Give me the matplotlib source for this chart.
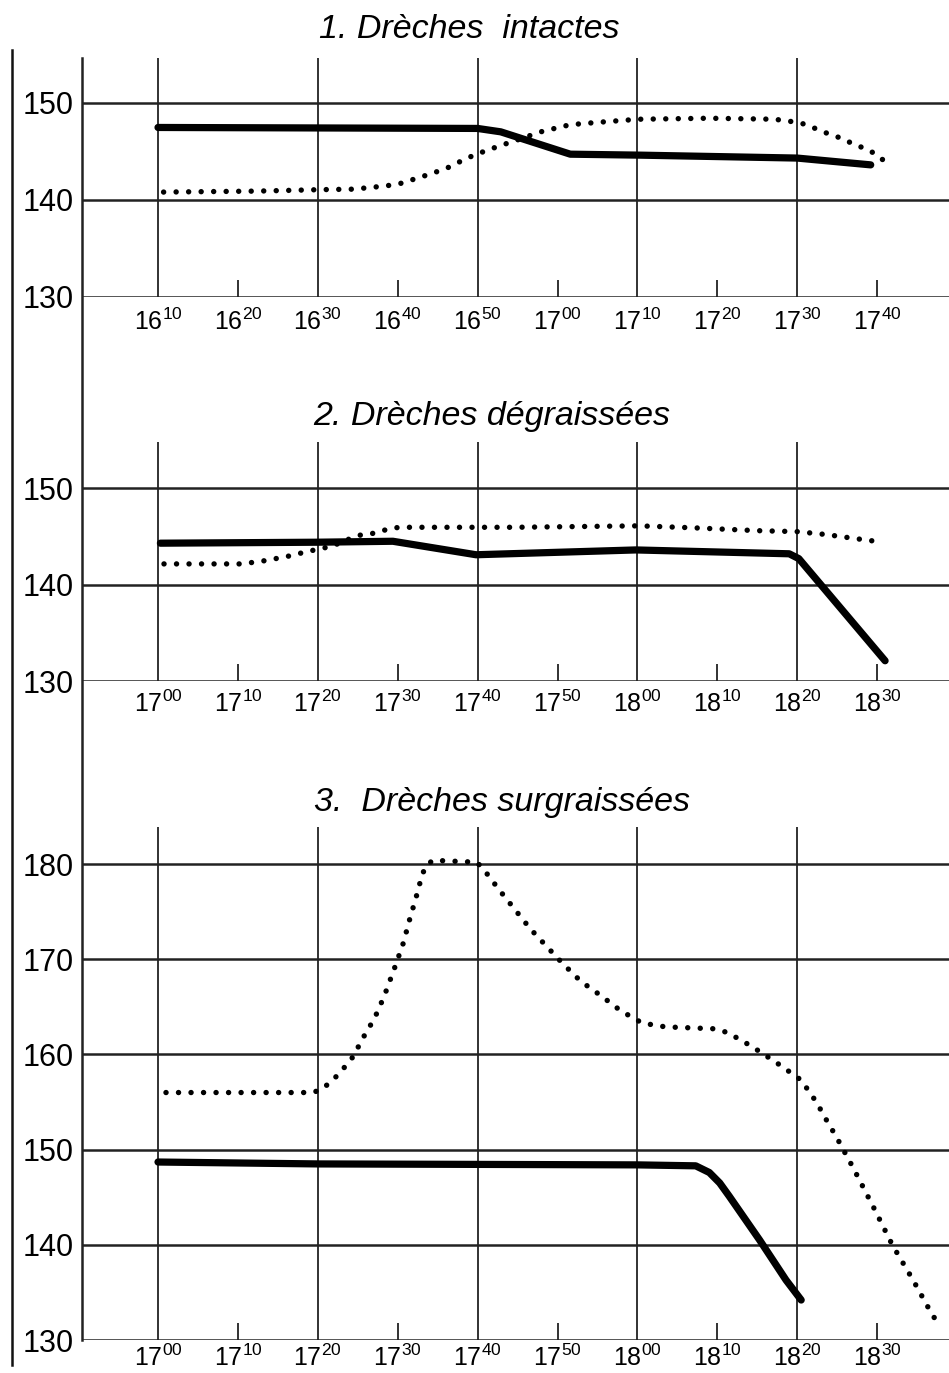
import matplotlib
matplotlib.use("Agg")
import matplotlib.pyplot as plt
from matplotlib.lines import Line2D

W, H = 949, 1373

plt.rcParams["font.family"] = ["Liberation Sans", "DejaVu Sans"]
plt.rcParams["mathtext.fontset"] = "custom"
plt.rcParams["mathtext.rm"] = "Liberation Sans"

# --- data: minutes after 16:00 (panel 1) or 17:00 (panels 2 and 3) ---
titles = ["1. Drèches  intactes", "2. Drèches dégraissées", "3.  Drèches surgraissées"]

p1_solid_t = [10, 50, 52.9, 61.6, 70.4, 90, 99.2]
p1_solid_v = [147.45, 147.35, 147.0, 144.7, 144.6, 144.3, 143.6]
p1_dot_t = [10.7, 22.4, 30.4, 34.5, 38.1, 40, 43.1, 46, 48.7, 50.2, 52.9, 54.4, 57.9, 59.4, 60.8,
            62.5, 65.4, 68.5, 70.4, 79, 87.1, 89, 90.9, 92.7, 94.2, 95.7, 97.1, 98.8, 100.0, 101.2]
p1_dot_v = [140.8, 140.9, 141.05, 141.1, 141.4, 141.6, 142.4, 143.2, 144.3, 144.8, 145.6, 146.0,
            147.0, 147.3, 147.6, 147.8, 148.0, 148.2, 148.3, 148.4, 148.3, 148.1, 147.8, 147.2,
            146.7, 146.3, 145.7, 145.2, 144.6, 143.8]

p2_solid_t = [0.3, 19.8, 29.4, 39.8, 59.8, 79.0, 80.2, 91.0]
p2_solid_v = [144.3, 144.4, 144.5, 143.1, 143.6, 143.2, 142.7, 132.1]
p2_dot_t = [0.75, 10.4, 11.8, 13.5, 16.6, 18.5, 20.2, 21.8, 25.0, 26.8, 28.1, 29.5, 31.2, 44.6,
            60.2, 66.9, 75.0, 80.0, 83.6, 87.1, 90.7]
p2_dot_v = [142.15, 142.15, 142.3, 142.5, 143.0, 143.4, 143.7, 144.0, 145.1, 145.3, 145.6, 145.9,
            145.95, 145.95, 146.1, 145.9, 145.6, 145.5, 145.2, 144.8, 144.4]

p3_solid_t = [0, 20, 60, 67.3, 69.0, 70.3, 71.5, 75.3, 78.6, 80.5]
p3_solid_v = [148.7, 148.5, 148.4, 148.3, 147.6, 146.5, 145.1, 140.5, 136.3, 134.2]
p3_dot_t = [1.0, 19.4, 20.6, 21.7, 22.7, 24.4, 25.7, 27.1, 28.3, 29.7, 30.7, 31.5, 32.3, 33.0, 33.5,
            34.4, 39.9, 40.8, 42.7, 44.6, 46.6, 48.7, 50.6, 52.9, 55.4, 57.9, 60.6, 63.5, 69.6,
            71.3, 74.0, 75.5, 78.0, 80.5, 82.4, 84.0, 84.8, 87.0, 89.7, 91.9, 94.5, 96.8, 97.9]
p3_dot_v = [156.0, 156.0, 156.4, 157.2, 158.0, 159.75, 161.8, 163.8, 166.1, 169.3, 171.7, 174.2,
            176.5, 178.7, 179.8, 180.4, 180.2, 179.4, 177.3, 175.3, 173.2, 171.3, 169.6, 167.7,
            166.2, 164.6, 163.3, 162.9, 162.7, 162.3, 161.0, 160.2, 158.8, 157.3, 155.0, 152.6,
            151.5, 148.1, 143.7, 140.0, 136.3, 132.8, 131.4]

p1_major = [10, 30, 50, 70, 90]
p1_major_lbl = [("16", "10"), ("16", "30"), ("16", "50"), ("17", "10"), ("17", "30")]
p1_minor = [20, 40, 60, 80, 100]
p1_minor_lbl = [("16", "20"), ("16", "40"), ("17", "00"), ("17", "20"), ("17", "40")]

p23_major = [0, 20, 40, 60, 80]
p23_major_lbl = [("17", "00"), ("17", "20"), ("17", "40"), ("18", "00"), ("18", "20")]
p23_minor = [10, 30, 50, 70, 90]
p23_minor_lbl = [("17", "10"), ("17", "30"), ("17", "50"), ("18", "10"), ("18", "30")]

p12_yticks = [130, 140, 150]
p3_yticks = [130, 140, 150, 160, 170, 180]


def lbl(pair):
    return r"$\mathregular{%s^{%s}}$" % pair


fig = plt.figure(figsize=(W / 100, H / 100), dpi=100)
fig.patch.set_facecolor("white")

# title, top px, bottom px, t0, ylim top, yticks, majors, minors, series, title x/y px, label pad
panels = [
    (titles[0], 58, 297, 10, 154.6, p12_yticks, p1_major, p1_major_lbl, p1_minor, p1_minor_lbl,
     (p1_solid_t, p1_solid_v, p1_dot_t, p1_dot_v), (469, 29), 8),
    (titles[1], 442, 681, 0, 154.8, p12_yticks, p23_major, p23_major_lbl, p23_minor, p23_minor_lbl,
     (p2_solid_t, p2_solid_v, p2_dot_t, p2_dot_v), (492, 417), 7),
    (titles[2], 827, 1340, 0, 183.9, p3_yticks, p23_major, p23_major_lbl, p23_minor, p23_minor_lbl,
     (p3_solid_t, p3_solid_v, p3_dot_t, p3_dot_v), (502, 802), 3.5),
]

LEFT = 82
px_per_min = 7.99
for (title, top, bot, t0, ytop, yt, maj, majl, mino, minl, series, tpos, xpad) in panels:
    ax = fig.add_axes([LEFT / W, 1 - bot / H, 1 - LEFT / W, (bot - top) / H])
    ax.set_xlim(t0 - (158 - LEFT) / px_per_min, t0 + (W - 158) / px_per_min)
    ax.set_ylim(130, ytop)
    for s in ax.spines.values():
        s.set_visible(False)
    ax.set_yticks(yt)
    ax.set_yticklabels([str(v) for v in yt], fontsize=22)
    ax.set_xticks(maj)
    ax.set_xticklabels([lbl(p) for p in majl], fontsize=18)
    ax.set_xticks(mino, minor=True)
    ax.set_xticklabels([lbl(p) for p in minl], minor=True, fontsize=18)
    ax.tick_params(axis="y", length=0, pad=6)
    ax.tick_params(axis="x", which="major", length=0, pad=xpad)
    ax.tick_params(axis="x", which="minor", direction="in", length=12, width=1.3,
                   color="#222222", pad=xpad)
    ax.grid(axis="y", color="#222222", lw=1.8)
    ax.grid(axis="x", which="major", color="#222222", lw=1.3)
    ax.set_axisbelow(True)

    st, sv, dt, dv = series
    ax.plot(st, sv, color="black", lw=5.2, solid_capstyle="round", solid_joinstyle="round",
            clip_on=False, zorder=3)
    ax.plot(dt, dv, color="black", lw=3.9, linestyle=(0, (0.01, 2.3)), dash_capstyle="round",
            clip_on=False, zorder=3)

    fig.text(tpos[0] / W, 1 - tpos[1] / H, title, ha="center", va="center",
             fontsize=24.5, style="italic")

# left frame lines
fig.add_artist(Line2D([LEFT / W, LEFT / W], [1 - 58 / H, 1 - 1340 / H], color="#222222", lw=1.8))
fig.add_artist(Line2D([12 / W, 12 / W], [1 - 50 / H, 1 - 1365 / H], color="#111111", lw=1.8))

fig.savefig("out.png", dpi=100, facecolor="white")
